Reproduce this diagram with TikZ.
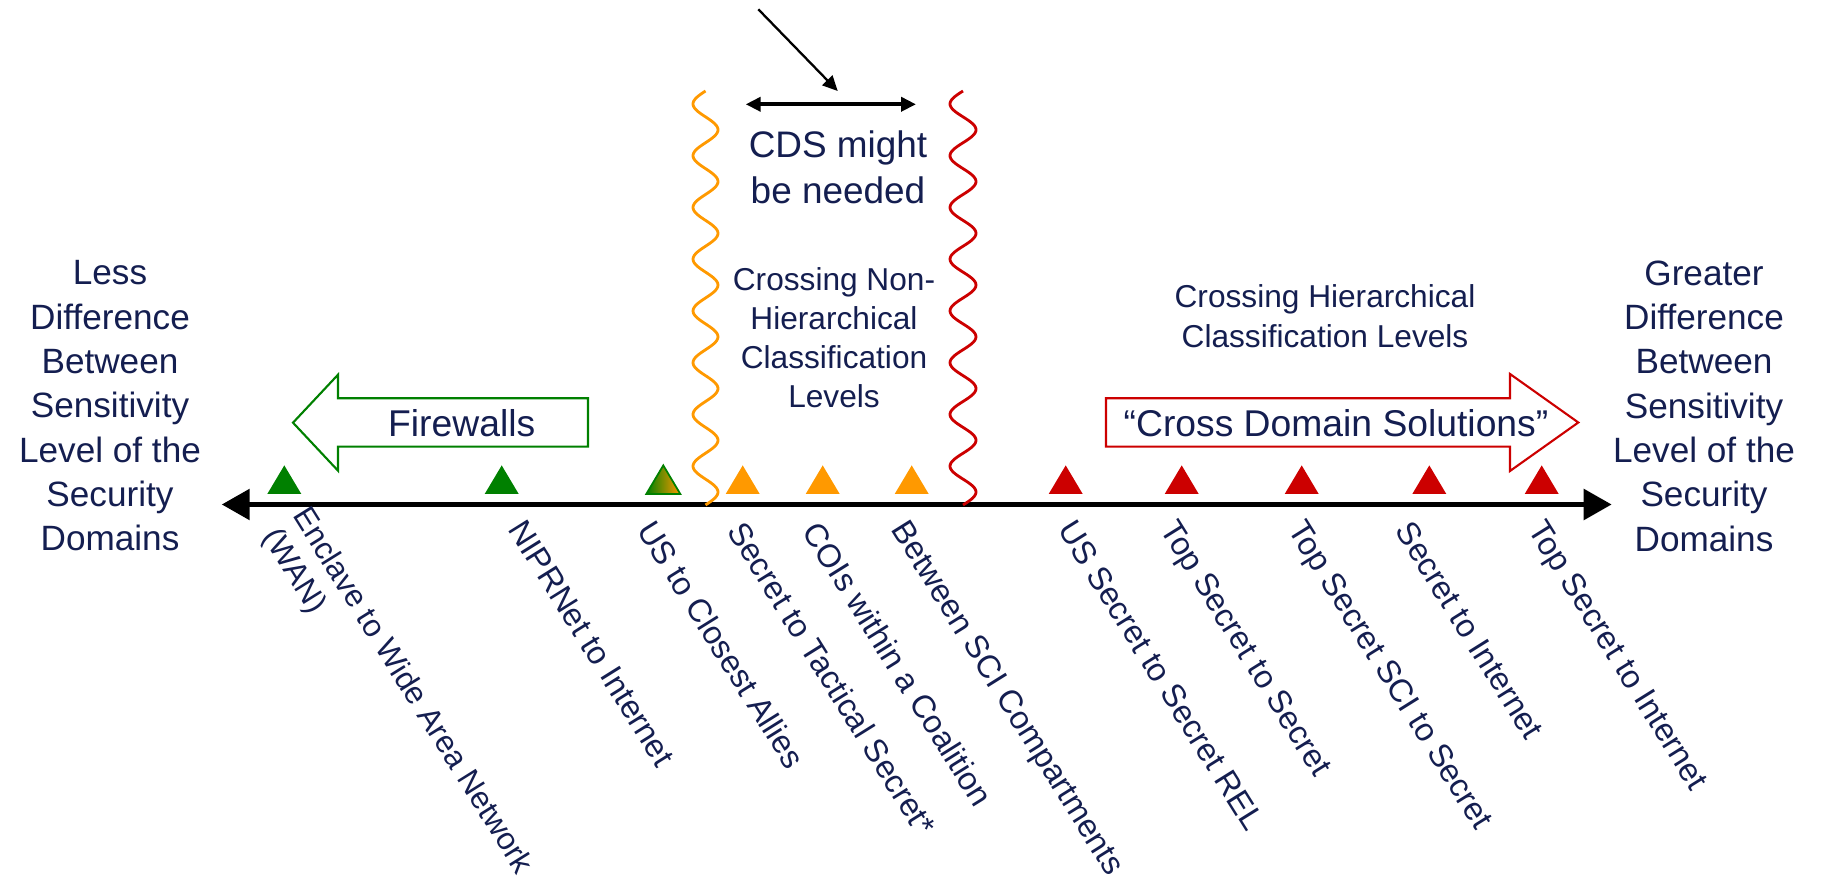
\documentclass[tikz,border=0pt]{standalone}
\usepackage{fontspec}
\setmainfont{Liberation Sans}
\usepackage{xcolor}
\usepackage{tikz}
\usetikzlibrary{positioning,arrows.meta}
\definecolor{navy}{RGB}{20,30,80}
\definecolor{fwgreen}{RGB}{0,128,0}
\definecolor{cdsorange}{RGB}{255,153,0}
\definecolor{cdsred}{RGB}{204,0,0}

\begin{document}
\begin{tikzpicture}[x=0.01cm, y=-0.01cm, text=navy,
  side/.style={align=center, font=\fontsize{10}{12.6}\selectfont},
  lbl/.style={rotate=-58, anchor=north west, inner sep=0pt, font=\fontsize{9.2}{12}\selectfont}]
\useasboundingbox (0,0) rectangle (1824,886);

\coordinate (less) at (221.7,504.5);
\coordinate (more) at (1611.7,504.5);
\draw[<->, >={Triangle[length=0.28cm, width=0.3cm]}, line width=1.6pt] (less) -- (more);

\node[side] (lessdiff) at (110,406) {Less\\Difference\\Between\\Sensitivity\\Level of the\\Security\\Domains};
\node[side] (morediff) at (1704,406) {Greater\\Difference\\Between\\Sensitivity\\Level of the\\Security\\Domains};

\draw[fwgreen, line width=0.6pt] (588,398.3) -- (338,398.3) -- (338,374.7) -- (293,422.7) -- (338,470.7) -- (338,446.7) -- (588,446.7) -- cycle;
\node[font=\fontsize{10.6}{12}\selectfont] (fw) at (461.7,423) {Firewalls};
\draw[cdsred, line width=0.6pt] (1106,398.3) -- (1510,398.3) -- (1510,374) -- (1578.3,422.5) -- (1510,471) -- (1510,446.7) -- (1106,446.7) -- cycle;
\node[font=\fontsize{10.6}{12}\selectfont] (cdsol) at (1336,423) {``Cross Domain Solutions''};

\draw[cdsorange, line width=0.8pt] plot[domain=0:414, samples=240, smooth] ({705.5-12.5*sin(\x*6.9565)}, {91+\x});
\draw[cdsred, line width=0.8pt] plot[domain=0:414, samples=240, smooth] ({963-13*sin(\x*6.9565)}, {91+\x});

\coordinate (spanl) at (745.7,104.3);
\coordinate (spanr) at (916,104.3);
\draw[<->, >={Triangle[length=0.15cm, width=0.14cm]}, line width=1.1pt] (spanl) -- (spanr);
\coordinate (ptr) at (758.3,9.3);
\coordinate (ptrtip) at (837.7,91);
\draw[->, >={Triangle[length=0.15cm, width=0.14cm]}, line width=0.65pt] (ptr) -- (ptrtip);

\node[align=center, font=\fontsize{10.5}{13.1}\selectfont] (cds) at (838,167) {CDS might\\be needed};
\node[align=center, font=\fontsize{9}{11.1}\selectfont] (nonhier) at (834,338) {Crossing Non-\\Hierarchical\\Classification\\Levels};
\node[align=center, font=\fontsize{9}{11.4}\selectfont] (hier) at (1325,316) {Crossing Hierarchical\\Classification Levels};

\fill[fwgreen] (267.3,494) -- ++(17,-28.6) -- ++(17,28.6) -- cycle;
\fill[fwgreen] (484.7,494) -- ++(17,-28.6) -- ++(17,28.6) -- cycle;
\draw[fwgreen, line width=0.5pt, left color=fwgreen, right color=cdsorange] (646.3,494) -- ++(17,-28.6) -- ++(17,28.6) -- cycle;
\fill[cdsorange] (725.7,494) -- ++(17,-28.6) -- ++(17,28.6) -- cycle;
\fill[cdsorange] (805.7,494) -- ++(17,-28.6) -- ++(17,28.6) -- cycle;
\fill[cdsorange] (894.7,494) -- ++(17,-28.6) -- ++(17,28.6) -- cycle;
\fill[cdsred] (1048.7,494) -- ++(17,-28.6) -- ++(17,28.6) -- cycle;
\fill[cdsred] (1164.7,494) -- ++(17,-28.6) -- ++(17,28.6) -- cycle;
\fill[cdsred] (1284.7,494) -- ++(17,-28.6) -- ++(17,28.6) -- cycle;
\fill[cdsred] (1412.3,494) -- ++(17,-28.6) -- ++(17,28.6) -- cycle;
\fill[cdsred] (1524.7,494) -- ++(17,-28.6) -- ++(17,28.6) -- cycle;

\node[lbl, font=\fontsize{8.9}{12}\selectfont] (l1) at (311.7,503) {Enclave to Wide Area Network};
\node[lbl, font=\fontsize{8.9}{12}\selectfont] (l1b) at (281.7,524) {(WAN)};
\node[lbl] (l2) at (526.7,516.7) {NIPRNet to Internet};
\node[lbl] (l3) at (656.7,516.7) {US to Closest Allies};
\node[lbl] (l4) at (746.7,518) {Secret to Tactical Secret*};
\node[lbl] (l5) at (821.7,518) {COIs within a Coalition};
\node[lbl] (l6) at (910,516.7) {Between SCI Compartments};
\node[lbl] (l7) at (1076.7,516.7) {US Secret to Secret REL};
\node[lbl] (l8) at (1179,516.7) {Top Secret to Secret};
\node[lbl] (l9) at (1306.7,516.7) {Top Secret SCI to Secret};
\node[lbl] (l10) at (1414,518) {Secret to Internet};
\node[lbl] (l11) at (1546.7,516.7) {Top Secret to Internet};

\end{tikzpicture}
\end{document}
